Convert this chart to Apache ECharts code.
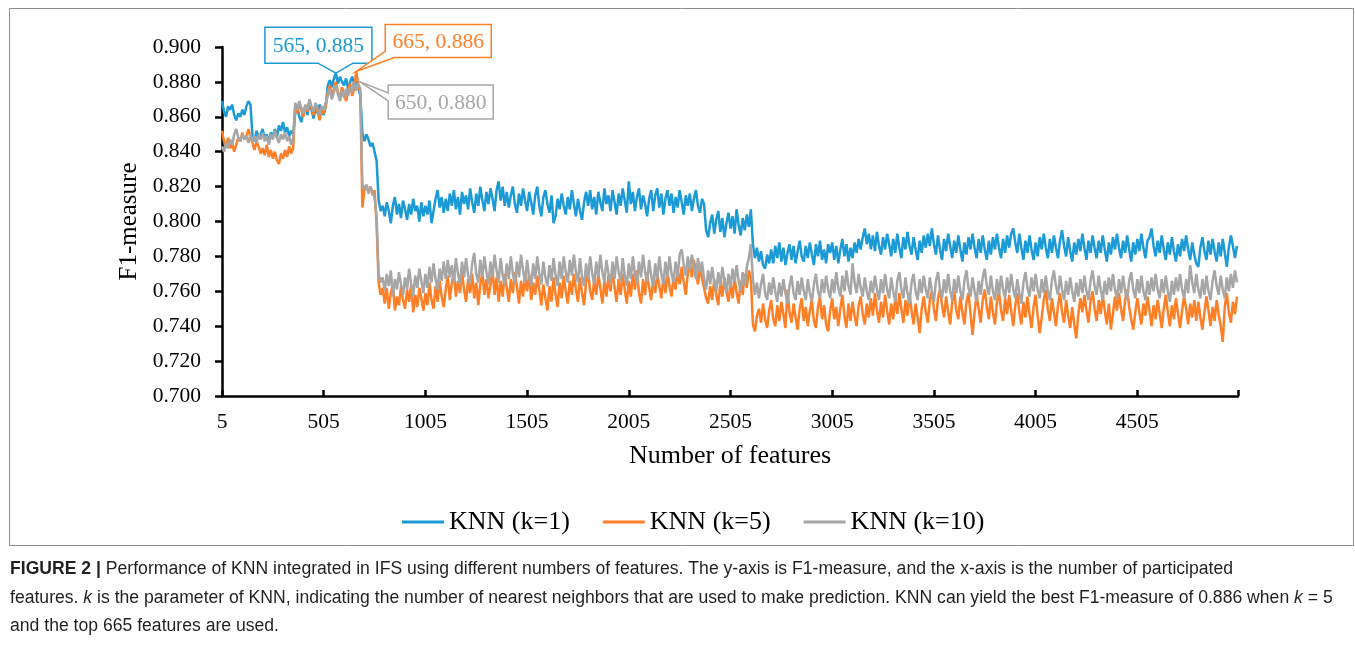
<!DOCTYPE html>
<html><head><meta charset="utf-8">
<script src="https://cdn.jsdelivr.net/npm/echarts@6/dist/echarts.min.js"></script>
<style>html,body{margin:0;padding:0;background:#fff}#c{width:1355px;height:645px}</style>
</head><body><div id="c"></div><script>
// x categories: number of features, every 10 from 5
const features = [];
for (let f = 5; f < 5000; f += 10) features.push(f);

const xTickLabels = [5, 505, 1005, 1505, 2005, 2505, 3005, 3505, 4005, 4505];
const xTickMarks = [5, 505, 1005, 1505, 2005, 2505, 3005, 3505, 4005, 4505, 5000];

const knn1 = [
0.869,0.863,0.860,0.866,0.864,0.867,0.861,0.858,0.862,0.860,
0.864,0.861,0.866,0.869,0.867,0.849,0.846,0.852,0.848,0.850,
0.853,0.847,0.850,0.845,0.851,0.849,0.853,0.848,0.855,0.852,
0.857,0.851,0.854,0.849,0.852,0.850,0.862,0.866,0.860,0.857,
0.863,0.866,0.861,0.868,0.864,0.859,0.865,0.862,0.867,0.864,
0.861,0.866,0.878,0.881,0.877,0.882,0.885,0.879,0.883,0.880,
0.878,0.882,0.876,0.880,0.883,0.879,0.881,0.877,0.872,0.851,
0.846,0.850,0.847,0.843,0.845,0.840,0.835,0.812,0.806,0.809,
0.803,0.811,0.806,0.799,0.809,0.814,0.804,0.810,0.802,0.812,
0.807,0.801,0.810,0.804,0.813,0.806,0.809,0.800,0.811,0.803,
0.809,0.804,0.812,0.799,0.806,0.813,0.818,0.808,0.814,0.805,
0.813,0.806,0.816,0.809,0.818,0.807,0.814,0.804,0.817,0.810,
0.815,0.807,0.819,0.811,0.805,0.816,0.809,0.820,0.812,0.806,
0.817,0.810,0.819,0.813,0.806,0.818,0.823,0.812,0.820,0.809,
0.817,0.808,0.815,0.820,0.810,0.805,0.816,0.809,0.819,0.812,
0.806,0.817,0.811,0.804,0.815,0.820,0.809,0.803,0.814,0.818,
0.810,0.805,0.815,0.799,0.803,0.813,0.807,0.816,0.809,0.804,
0.814,0.807,0.818,0.810,0.803,0.813,0.806,0.801,0.811,0.817,
0.809,0.818,0.807,0.814,0.804,0.817,0.811,0.806,0.819,0.810,
0.815,0.806,0.818,0.811,0.804,0.816,0.809,0.819,0.812,0.805,
0.823,0.810,0.817,0.806,0.814,0.819,0.807,0.815,0.810,0.803,
0.813,0.818,0.806,0.815,0.819,0.808,0.816,0.804,0.813,0.818,
0.809,0.816,0.805,0.814,0.808,0.818,0.811,0.804,0.815,0.809,
0.816,0.806,0.813,0.818,0.809,0.805,0.813,0.810,0.795,0.791,
0.799,0.804,0.793,0.801,0.806,0.794,0.802,0.791,0.799,0.805,
0.796,0.803,0.793,0.807,0.798,0.792,0.802,0.795,0.804,0.797,
0.807,0.787,0.779,0.785,0.777,0.783,0.775,0.773,0.781,0.776,
0.784,0.776,0.786,0.779,0.788,0.777,0.785,0.775,0.782,0.787,
0.778,0.786,0.776,0.783,0.789,0.780,0.777,0.786,0.779,0.788,
0.781,0.775,0.787,0.780,0.789,0.778,0.784,0.776,0.787,0.782,
0.788,0.778,0.786,0.776,0.784,0.790,0.780,0.787,0.777,0.785,
0.779,0.788,0.782,0.790,0.784,0.791,0.796,0.787,0.793,0.784,
0.792,0.783,0.794,0.786,0.781,0.791,0.784,0.793,0.787,0.780,
0.790,0.782,0.793,0.785,0.779,0.791,0.784,0.794,0.786,0.781,
0.791,0.784,0.778,0.789,0.782,0.792,0.785,0.793,0.786,0.796,
0.787,0.781,0.792,0.784,0.778,0.790,0.783,0.793,0.786,0.779,
0.789,0.782,0.792,0.784,0.777,0.788,0.781,0.791,0.784,0.793,
0.785,0.779,0.790,0.782,0.792,0.784,0.778,0.789,0.781,0.791,
0.784,0.793,0.785,0.779,0.790,0.782,0.792,0.785,0.793,0.796,
0.788,0.782,0.793,0.785,0.778,0.789,0.782,0.792,0.784,0.778,
0.788,0.780,0.791,0.784,0.793,0.785,0.779,0.790,0.782,0.792,
0.785,0.779,0.789,0.795,0.786,0.780,0.791,0.783,0.777,0.788,
0.781,0.790,0.783,0.793,0.785,0.778,0.789,0.782,0.792,0.785,
0.779,0.789,0.782,0.792,0.784,0.777,0.788,0.781,0.791,0.784,
0.793,0.785,0.779,0.789,0.782,0.792,0.784,0.777,0.788,0.781,
0.790,0.783,0.793,0.785,0.779,0.789,0.791,0.796,0.786,0.780,
0.789,0.782,0.792,0.784,0.778,0.788,0.781,0.791,0.783,0.777,
0.787,0.780,0.790,0.783,0.792,0.784,0.778,0.788,0.781,0.776,
0.774,0.785,0.791,0.783,0.778,0.789,0.781,0.790,0.783,0.777,
0.788,0.780,0.790,0.782,0.774,0.785,0.792,0.786,0.779,0.786
];

const knn5 = [
0.852,0.846,0.843,0.848,0.842,0.845,0.840,0.844,0.848,0.846,
0.851,0.847,0.849,0.853,0.848,0.845,0.841,0.846,0.843,0.839,
0.842,0.838,0.844,0.837,0.841,0.836,0.840,0.835,0.833,0.839,
0.836,0.841,0.837,0.843,0.839,0.842,0.866,0.862,0.868,0.864,
0.860,0.866,0.863,0.869,0.865,0.861,0.867,0.863,0.858,0.864,
0.862,0.866,0.874,0.878,0.872,0.876,0.880,0.874,0.871,0.877,
0.873,0.869,0.875,0.879,0.872,0.876,0.886,0.878,0.874,0.808,
0.818,0.821,0.817,0.820,0.815,0.818,0.798,0.765,0.758,0.762,
0.753,0.762,0.750,0.759,0.764,0.749,0.757,0.752,0.763,0.755,
0.750,0.761,0.754,0.764,0.748,0.758,0.751,0.762,0.756,0.749,
0.759,0.752,0.765,0.755,0.750,0.763,0.754,0.766,0.757,0.751,
0.761,0.769,0.755,0.765,0.771,0.757,0.766,0.759,0.771,0.761,
0.754,0.767,0.759,0.770,0.756,0.765,0.752,0.764,0.771,0.758,
0.767,0.756,0.764,0.773,0.758,0.768,0.754,0.766,0.757,0.770,
0.762,0.754,0.767,0.759,0.771,0.763,0.753,0.766,0.757,0.769,
0.760,0.770,0.755,0.765,0.758,0.769,0.761,0.752,0.764,0.756,
0.749,0.763,0.754,0.768,0.758,0.751,0.765,0.756,0.769,0.760,
0.753,0.766,0.758,0.770,0.761,0.754,0.768,0.759,0.752,0.765,
0.771,0.760,0.755,0.767,0.758,0.770,0.762,0.753,0.766,0.757,
0.769,0.760,0.772,0.762,0.754,0.767,0.758,0.770,0.761,0.753,
0.766,0.757,0.770,0.761,0.772,0.759,0.753,0.767,0.758,0.771,
0.762,0.755,0.768,0.759,0.771,0.763,0.756,0.768,0.759,0.772,
0.763,0.757,0.769,0.761,0.772,0.764,0.774,0.765,0.758,0.770,
0.776,0.768,0.778,0.771,0.764,0.775,0.767,0.762,0.756,0.753,
0.763,0.755,0.767,0.758,0.752,0.765,0.757,0.768,0.760,0.754,
0.765,0.756,0.768,0.759,0.753,0.766,0.758,0.770,0.762,0.772,
0.768,0.741,0.737,0.746,0.750,0.742,0.753,0.744,0.739,0.749,
0.755,0.744,0.740,0.752,0.743,0.754,0.747,0.739,0.761,0.748,
0.742,0.753,0.745,0.738,0.750,0.756,0.743,0.751,0.740,0.749,
0.755,0.743,0.739,0.751,0.757,0.744,0.752,0.741,0.737,0.749,
0.756,0.744,0.751,0.740,0.750,0.758,0.746,0.739,0.753,0.743,
0.754,0.746,0.740,0.752,0.757,0.747,0.741,0.753,0.745,0.756,
0.746,0.759,0.749,0.742,0.754,0.745,0.758,0.749,0.741,0.753,
0.744,0.756,0.747,0.759,0.750,0.742,0.755,0.746,0.759,0.749,
0.741,0.753,0.745,0.736,0.750,0.757,0.748,0.742,0.755,0.760,
0.750,0.743,0.756,0.761,0.752,0.745,0.757,0.748,0.741,0.754,
0.760,0.749,0.744,0.757,0.748,0.741,0.754,0.759,0.747,0.735,
0.748,0.758,0.750,0.742,0.755,0.761,0.751,0.744,0.757,0.748,
0.741,0.754,0.760,0.749,0.743,0.756,0.747,0.758,0.749,0.740,
0.752,0.759,0.748,0.741,0.754,0.745,0.757,0.747,0.739,0.751,
0.758,0.746,0.736,0.745,0.755,0.761,0.750,0.743,0.756,0.748,
0.740,0.752,0.759,0.748,0.742,0.755,0.746,0.739,0.751,0.741,
0.733,0.747,0.756,0.748,0.758,0.749,0.742,0.754,0.760,0.750,
0.743,0.755,0.747,0.758,0.749,0.741,0.753,0.738,0.747,0.757,
0.749,0.759,0.750,0.743,0.755,0.761,0.751,0.744,0.738,0.748,
0.756,0.748,0.741,0.753,0.746,0.757,0.749,0.740,0.752,0.744,
0.755,0.747,0.739,0.750,0.758,0.748,0.740,0.752,0.744,0.756,
0.747,0.739,0.749,0.757,0.750,0.741,0.753,0.745,0.755,0.743,
0.754,0.745,0.738,0.748,0.757,0.749,0.740,0.751,0.743,0.755,
0.747,0.740,0.731,0.751,0.759,0.748,0.742,0.754,0.747,0.757
];

const knn10 = [
0.843,0.840,0.845,0.842,0.847,0.844,0.850,0.853,0.848,0.846,
0.850,0.847,0.849,0.845,0.850,0.846,0.849,0.845,0.850,0.847,
0.851,0.846,0.849,0.844,0.850,0.847,0.852,0.848,0.845,0.850,
0.847,0.851,0.846,0.849,0.844,0.848,0.868,0.864,0.869,0.865,
0.862,0.867,0.864,0.870,0.866,0.863,0.868,0.865,0.861,0.866,
0.864,0.868,0.872,0.876,0.870,0.874,0.878,0.873,0.869,0.875,
0.871,0.876,0.872,0.877,0.874,0.878,0.875,0.879,0.876,0.822,
0.818,0.821,0.816,0.820,0.817,0.814,0.803,0.770,0.765,0.768,
0.760,0.770,0.763,0.772,0.757,0.767,0.761,0.771,0.764,0.758,
0.768,0.761,0.773,0.764,0.757,0.769,0.762,0.773,0.766,0.759,
0.770,0.762,0.774,0.765,0.776,0.767,0.761,0.773,0.766,0.777,
0.767,0.778,0.768,0.775,0.765,0.779,0.770,0.764,0.777,0.768,
0.779,0.769,0.764,0.776,0.782,0.770,0.765,0.778,0.768,0.780,
0.771,0.764,0.777,0.768,0.781,0.772,0.765,0.779,0.769,0.763,
0.776,0.767,0.780,0.770,0.764,0.777,0.768,0.781,0.772,0.765,
0.778,0.768,0.763,0.776,0.767,0.780,0.770,0.764,0.777,0.768,
0.763,0.775,0.766,0.779,0.769,0.763,0.777,0.767,0.780,0.771,
0.765,0.778,0.769,0.781,0.771,0.765,0.779,0.768,0.763,0.776,
0.767,0.780,0.770,0.764,0.777,0.768,0.781,0.771,0.765,0.778,
0.770,0.764,0.777,0.767,0.780,0.771,0.765,0.779,0.769,0.763,
0.776,0.767,0.780,0.770,0.764,0.777,0.768,0.781,0.771,0.765,
0.778,0.769,0.763,0.776,0.767,0.780,0.770,0.764,0.777,0.768,
0.780,0.770,0.765,0.777,0.768,0.781,0.784,0.775,0.769,0.780,
0.772,0.781,0.774,0.767,0.779,0.771,0.777,0.767,0.761,0.772,
0.764,0.774,0.765,0.760,0.771,0.763,0.774,0.766,0.759,0.770,
0.762,0.773,0.765,0.775,0.766,0.760,0.771,0.763,0.774,0.779,
0.787,0.767,0.758,0.765,0.756,0.764,0.770,0.759,0.755,0.765,
0.758,0.768,0.760,0.754,0.765,0.757,0.767,0.759,0.753,0.763,
0.769,0.759,0.755,0.766,0.758,0.768,0.760,0.755,0.767,0.759,
0.754,0.764,0.770,0.760,0.756,0.767,0.759,0.769,0.761,0.756,
0.767,0.759,0.771,0.762,0.757,0.769,0.760,0.772,0.763,0.758,
0.776,0.765,0.759,0.770,0.762,0.757,0.768,0.760,0.755,0.766,
0.759,0.769,0.761,0.755,0.767,0.759,0.770,0.761,0.756,0.768,
0.760,0.754,0.766,0.771,0.761,0.756,0.768,0.759,0.753,0.765,
0.770,0.760,0.755,0.767,0.759,0.769,0.761,0.756,0.768,0.760,
0.754,0.766,0.771,0.761,0.756,0.767,0.759,0.770,0.760,0.755,
0.767,0.759,0.769,0.760,0.755,0.766,0.772,0.762,0.757,0.768,
0.760,0.754,0.766,0.758,0.768,0.773,0.763,0.758,0.769,0.760,
0.755,0.767,0.758,0.769,0.761,0.756,0.768,0.759,0.770,0.761,
0.756,0.767,0.759,0.753,0.765,0.771,0.762,0.757,0.768,0.760,
0.770,0.761,0.756,0.767,0.759,0.769,0.760,0.755,0.766,0.772,
0.763,0.758,0.769,0.761,0.755,0.766,0.758,0.768,0.760,0.754,
0.765,0.757,0.767,0.759,0.769,0.760,0.755,0.766,0.772,0.763,
0.758,0.769,0.761,0.755,0.766,0.758,0.768,0.760,0.770,0.761,
0.756,0.767,0.759,0.769,0.760,0.755,0.766,0.771,0.761,0.756,
0.767,0.759,0.769,0.760,0.755,0.766,0.758,0.768,0.760,0.770,
0.761,0.756,0.767,0.759,0.769,0.760,0.754,0.766,0.758,0.768,
0.760,0.770,0.761,0.756,0.767,0.759,0.775,0.765,0.759,0.770,
0.761,0.756,0.767,0.758,0.769,0.760,0.755,0.766,0.772,0.763,
0.758,0.769,0.761,0.756,0.768,0.760,0.770,0.762,0.772,0.765
];

const seriesNames = ['KNN (k=1)', 'KNN (k=5)', 'KNN (k=10)'];
const seriesColors = ['#1b9ad6', '#ff7f27', '#a6a6a6'];

// labelled maxima (feature count, F1)
const callouts = [
  { series: 0, x: 565, y: 0.885, text: '565, 0.885' },
  { series: 1, x: 665, y: 0.886, text: '665, 0.886' },
  { series: 2, x: 650, y: 0.880, text: '650, 0.880' }
];

const SERIF = '"Liberation Serif", "Times New Roman", serif';
const SANS = '"Liberation Sans", Arial, sans-serif';

function pairs(vals, extra) {
  const out = features.map((f, i) => [f, vals[i]]);
  extra.forEach(e => out.push([e.x, e.y]));
  out.sort((a, b) => a[0] - b[0]);
  return out;
}
const greyExtra = callouts.filter(c => c.series === 2 && (c.x - 5) % 10 !== 0);

const chart = echarts.init(document.getElementById('c'), null, { renderer: 'canvas' });
chart.setOption({
  animation: false,
  backgroundColor: '#fff',
  grid: { left: 222, right: 117, top: 47, bottom: 249, containLabel: false },
  xAxis: {
    type: 'value', min: 5, max: 5000,
    name: 'Number of features', nameLocation: 'middle', nameGap: 47,
    nameTextStyle: { fontFamily: SERIF, fontSize: 26, color: '#000' },
    axisLine: { show: true, lineStyle: { color: '#000', width: 2.5 } },
    axisTick: { show: true, inside: true, length: 6, lineStyle: { color: '#000', width: 2.5 }, customValues: xTickMarks },
    axisLabel: { customValues: xTickLabels, formatter: v => String(v), fontFamily: SERIF, fontSize: 21.5, color: '#000', margin: 15 },
    splitLine: { show: false }
  },
  yAxis: {
    type: 'value', min: 0.7, max: 0.9, interval: 0.02,
    name: 'F1-measure', nameLocation: 'middle', nameGap: 74, nameRotate: 90,
    nameTextStyle: { fontFamily: SERIF, fontSize: 25, color: '#000' },
    axisLine: { show: true, lineStyle: { color: '#000', width: 2.5 } },
    axisTick: { show: true, inside: false, length: 7, lineStyle: { color: '#000', width: 2.5 } },
    axisLabel: { formatter: v => v.toFixed(3), fontFamily: SERIF, fontSize: 21.5, color: '#000', margin: 21 },
    splitLine: { show: false }
  },
  legend: {
    left: 397, top: 504, icon: 'rect', itemWidth: 42, itemHeight: 3, itemGap: 33,
    textStyle: { fontFamily: SERIF, fontSize: 26, color: '#000' },
    data: seriesNames
  },
  series: [
    { name: seriesNames[0], type: 'line', showSymbol: false, symbol: 'none', data: pairs(knn1, []),
      lineStyle: { color: seriesColors[0], width: 2.5 }, itemStyle: { color: seriesColors[0] }, z: 2 },
    { name: seriesNames[1], type: 'line', showSymbol: false, symbol: 'none', data: pairs(knn5, []),
      lineStyle: { color: seriesColors[1], width: 2.5 }, itemStyle: { color: seriesColors[1] }, z: 3 },
    { name: seriesNames[2], type: 'line', showSymbol: false, symbol: 'none', data: pairs(knn10, greyExtra),
      lineStyle: { color: seriesColors[2], width: 2.5 }, itemStyle: { color: seriesColors[2] }, z: 4 }
  ]
});

// callout boxes anchored to the data points through the axis scales
const shapes = [
  { box: [-71, 36, -46, -10], poly: (L, R, T, B, tx, ty) => [[L,T],[R,T],[R,B],[tx+17,B],[tx,ty],[tx-18,B],[L,B]] },
  { box: [29, 135, -47, -14], poly: (L, R, T, B, tx, ty) => [[L,T],[R,T],[R,B],[L+9,B],[tx,ty],[L,B-6]] },
  { box: [35, 140, 3, 37], poly: (L, R, T, B, tx, ty) => [[L,T],[R,T],[R,B],[L,B],[L,T+16],[tx+7,ty],[L,T+8]] }
];
const graphics = [];
callouts.forEach((c, k) => {
  const p = chart.convertToPixel({ gridIndex: 0 }, [c.x, c.y]);
  const s = shapes[k];
  const L = p[0] + s.box[0], R = p[0] + s.box[1], T = p[1] + s.box[2], B = p[1] + s.box[3];
  graphics.push({
    type: 'polygon', z: 100,
    shape: { points: s.poly(L, R, T, B, p[0], p[1]) },
    style: { fill: '#fff', stroke: seriesColors[c.series], lineWidth: 1.5 }
  });
  graphics.push({
    type: 'text', z: 101,
    style: { x: (L + R) / 2, y: (T + B) / 2 + 1, text: c.text, align: 'center', verticalAlign: 'middle',
      font: '21.5px ' + SERIF, fill: seriesColors[c.series] }
  });
});
// chart frame
graphics.push({ type: 'rect', z: 0, shape: { x: 9.5, y: 8.5, width: 1344, height: 537 },
  style: { fill: 'none', stroke: '#8c8c8c', lineWidth: 1 } });
// caption
const CAP = 17.6;
const capRich = {
  b: { fontFamily: SANS, fontSize: CAP, fontWeight: 'bold', fill: '#231f20' },
  i: { fontFamily: SANS, fontSize: CAP, fontStyle: 'italic', fill: '#231f20' },
  n: { fontFamily: SANS, fontSize: CAP, fill: '#231f20' }
};
const capLines = [
  '{b|FIGURE 2 |}{n| Performance of KNN integrated in IFS using different numbers of features. The y-axis is F1-measure, and the x-axis is the number of participated}',
  '{n|features. }{i|k}{n| is the parameter of KNN, indicating the number of nearest neighbors that are used to make prediction. KNN can yield the best F1-measure of 0.886 when }{i|k}{n| = 5}',
  '{n|and the top 665 features are used.}'
];
const capY = [569, 598, 626];
capLines.forEach((t, k) => {
  graphics.push({ type: 'text', z: 10,
    style: { x: 10, y: capY[k], text: t, rich: capRich, align: 'left', verticalAlign: 'middle',
      font: CAP + 'px ' + SANS, fill: '#231f20' } });
});
chart.setOption({ graphic: graphics });
</script></body></html>
